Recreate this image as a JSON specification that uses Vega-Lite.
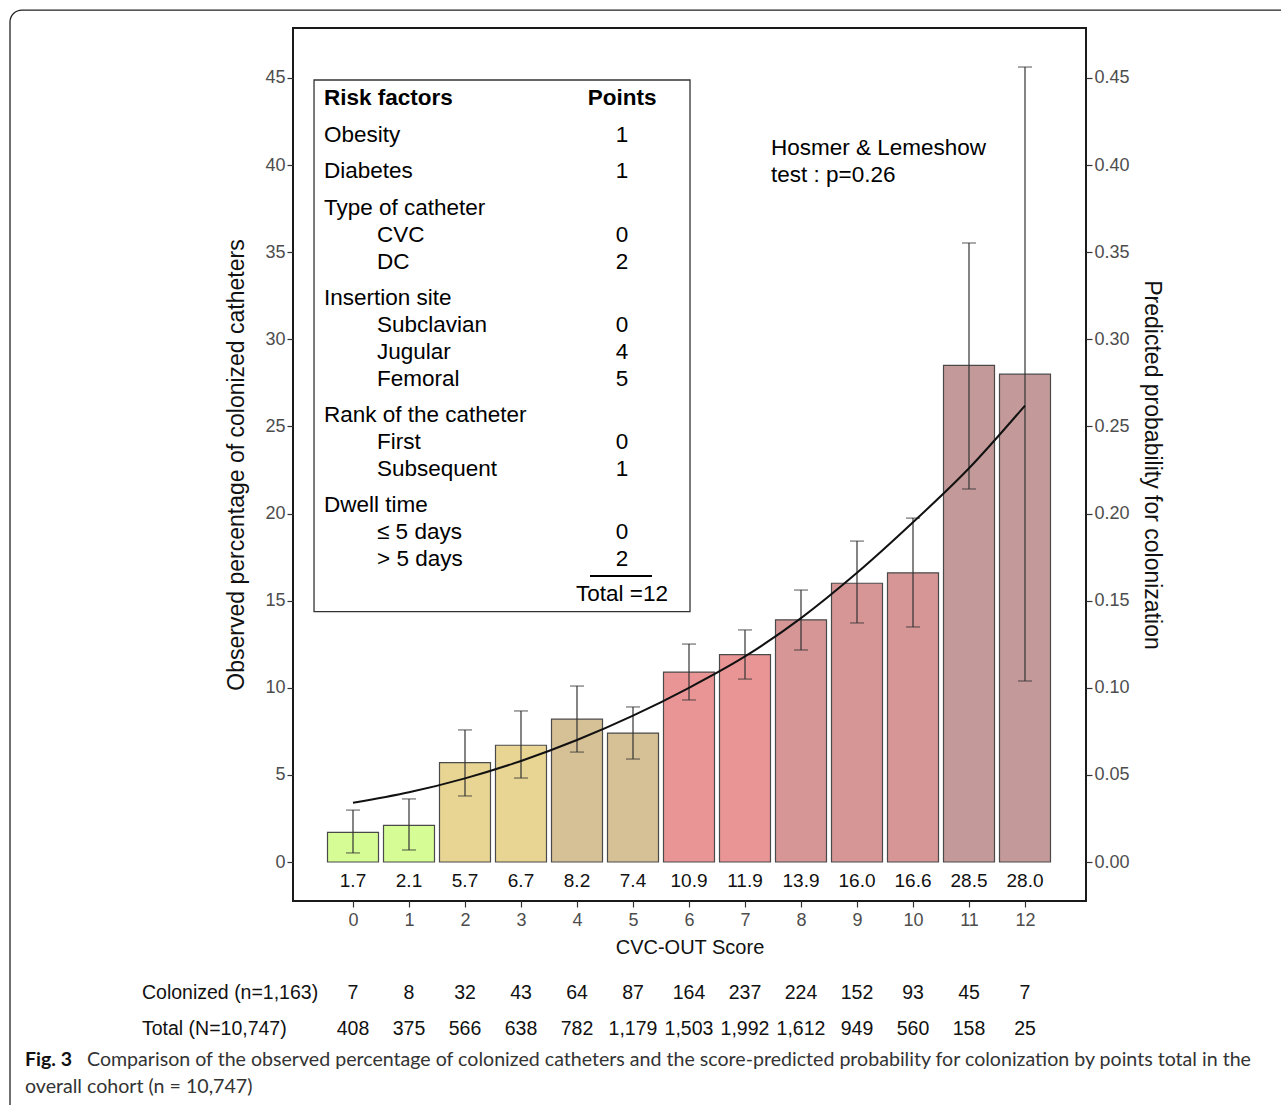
{
  "$schema": "https://vega.github.io/schema/vega-lite/v6.json",
  "width": 793,
  "height": 873,
  "autosize": "none",
  "padding": {"left": 293, "top": 28, "right": 195, "bottom": 204},
  "background": "white",
  "config": {
    "view": {"stroke": "#1a1a1a", "strokeWidth": 2},
    "font": "Liberation Sans",
    "scale": {"continuousPadding": 0},
    "axis": {
      "domain": false,
      "grid": false,
      "tickColor": "#333333",
      "tickSize": 6,
      "tickWidth": 1.2,
      "labelColor": "#4d4d4d",
      "labelFontSize": 18,
      "labelFont": "Liberation Sans",
      "titleFont": "Liberation Sans",
      "titleFontWeight": "normal",
      "titleColor": "#111111"
    },
    "text": {"font": "Liberation Sans", "baseline": "middle"}
  },
  "datasets": {
    "scores": [
      {"score": 0, "pct": 1.7, "lo": 0.52, "hi": 2.98, "tier": "A", "colonized": 7, "total": 408, "pred": 0.034},
      {"score": 1, "pct": 2.1, "lo": 0.69, "hi": 3.62, "tier": "A", "colonized": 8, "total": 375, "pred": 0.040},
      {"score": 2, "pct": 5.7, "lo": 3.79, "hi": 7.58, "tier": "B", "colonized": 32, "total": 566, "pred": 0.048},
      {"score": 3, "pct": 6.7, "lo": 4.82, "hi": 8.67, "tier": "B", "colonized": 43, "total": 638, "pred": 0.058},
      {"score": 4, "pct": 8.2, "lo": 6.31, "hi": 10.1, "tier": "C", "colonized": 64, "total": 782, "pred": 0.070},
      {"score": 5, "pct": 7.4, "lo": 5.91, "hi": 8.9, "tier": "C", "colonized": 87, "total": 1179, "pred": 0.084},
      {"score": 6, "pct": 10.9, "lo": 9.3, "hi": 12.51, "tier": "D", "colonized": 164, "total": 1503, "pred": 0.100},
      {"score": 7, "pct": 11.9, "lo": 10.5, "hi": 13.32, "tier": "D", "colonized": 237, "total": 1992, "pred": 0.118},
      {"score": 8, "pct": 13.9, "lo": 12.17, "hi": 15.61, "tier": "E", "colonized": 224, "total": 1612, "pred": 0.140},
      {"score": 9, "pct": 16.0, "lo": 13.72, "hi": 18.42, "tier": "E", "colonized": 152, "total": 949, "pred": 0.166},
      {"score": 10, "pct": 16.6, "lo": 13.49, "hi": 19.74, "tier": "E", "colonized": 93, "total": 560, "pred": 0.195},
      {"score": 11, "pct": 28.5, "lo": 21.41, "hi": 35.53, "tier": "F", "colonized": 45, "total": 158, "pred": 0.226},
      {"score": 12, "pct": 28.0, "lo": 10.39, "hi": 45.63, "tier": "F", "colonized": 7, "total": 25, "pred": 0.262}
    ],
    "table": [
      {"label": "Obesity", "indent": 0, "pts": "1", "ty": 41.72},
      {"label": "Diabetes", "indent": 0, "pts": "1", "ty": 39.66},
      {"label": "Type of catheter", "indent": 0, "pts": "", "ty": 37.54},
      {"label": "CVC", "indent": 1, "pts": "0", "ty": 35.99},
      {"label": "DC", "indent": 1, "pts": "2", "ty": 34.44},
      {"label": "Insertion site", "indent": 0, "pts": "", "ty": 32.37},
      {"label": "Subclavian", "indent": 1, "pts": "0", "ty": 30.82},
      {"label": "Jugular", "indent": 1, "pts": "4", "ty": 29.27},
      {"label": "Femoral", "indent": 1, "pts": "5", "ty": 27.72},
      {"label": "Rank of the catheter", "indent": 0, "pts": "", "ty": 25.66},
      {"label": "First", "indent": 1, "pts": "0", "ty": 24.11},
      {"label": "Subsequent", "indent": 1, "pts": "1", "ty": 22.56},
      {"label": "Dwell time", "indent": 0, "pts": "", "ty": 20.49},
      {"label": "≤ 5 days", "indent": 1, "pts": "0", "ty": 18.94},
      {"label": "> 5 days", "indent": 1, "pts": "2", "ty": 17.39}
    ]
  },
  "layer": [
    {
      "data": {"name": "scores"},
      "layer": [
        {
          "mark": {"type": "bar", "width": 51, "stroke": "#4a4a4a", "strokeWidth": 1.2},
          "encoding": {
            "x": {
              "field": "score", "type": "quantitative",
              "scale": {"domain": [-1.0714, 13.0893], "nice": false, "zero": false, "padding": 0},
              "axis": {"values": [0,1,2,3,4,5,6,7,8,9,10,11,12], "format": "d", "title": "CVC-OUT Score", "titleFontSize": 20, "labelPadding": 4, "titlePadding": 8}
            },
            "y": {
              "field": "pct", "type": "quantitative",
              "scale": {"domain": [-2.2385, 47.8698], "nice": false, "zero": false, "padding": 0},
              "axis": {"orient": "left", "values": [0,5,10,15,20,25,30,35,40,45], "format": "d", "title": "Observed percentage of colonized catheters", "titleFontSize": 23, "titlePadding": 16}
            },
            "y2": {"datum": 0},
            "color": {
              "field": "tier", "type": "nominal", "legend": null,
              "scale": {"domain": ["A","B","C","D","E","F"], "range": ["#d5fc95", "#e8d594", "#d6c196", "#e99595", "#d69696", "#c49999"]}
            }
          }
        },
        {
          "data": {"values": [{}]},
          "mark": {"type": "rect", "fill": null, "fillOpacity": 0, "stroke": "#222222", "strokeWidth": 1.3, "cornerRadius": 12},
          "encoding": {
            "x": {"datum": -6.125, "type": "quantitative"},
            "x2": {"datum": 17.5},
            "y": {"datum": 48.9, "type": "quantitative"},
            "y2": {"datum": -15}
          }
        },
        {
          "data": {"values": [{}]},
          "mark": {"type": "rect", "fill": "white", "stroke": "#333333", "strokeWidth": 1.3},
          "encoding": {
            "x": {"datum": -0.696, "type": "quantitative"},
            "x2": {"datum": 6.018},
            "y": {"datum": 44.885, "type": "quantitative"},
            "y2": {"datum": 14.367}
          }
        },
        {
          "mark": {"type": "rule", "color": "#333333", "strokeWidth": 1.2},
          "encoding": {
            "x": {"field": "score", "type": "quantitative"},
            "y": {"field": "lo", "type": "quantitative"},
            "y2": {"field": "hi"}
          }
        },
        {
          "mark": {"type": "tick", "orient": "horizontal", "size": 14, "thickness": 1.2, "color": "#333333"},
          "encoding": {
            "x": {"field": "score", "type": "quantitative"},
            "y": {"field": "lo", "type": "quantitative"}
          }
        },
        {
          "mark": {"type": "tick", "orient": "horizontal", "size": 14, "thickness": 1.2, "color": "#333333"},
          "encoding": {
            "x": {"field": "score", "type": "quantitative"},
            "y": {"field": "hi", "type": "quantitative"}
          }
        },
        {
          "mark": {"type": "text", "fontSize": 19, "color": "#111111", "align": "center"},
          "encoding": {
            "x": {"field": "score", "type": "quantitative"},
            "y": {"datum": -1.1, "type": "quantitative"},
            "text": {"field": "pct", "type": "quantitative", "format": ".1f"}
          }
        },
        {
          "mark": {"type": "text", "fontSize": 19.5, "color": "#111111", "align": "center"},
          "encoding": {
            "x": {"field": "score", "type": "quantitative"},
            "y": {"datum": -7.52, "type": "quantitative"},
            "text": {"field": "colonized", "type": "quantitative", "format": ",d"}
          }
        },
        {
          "mark": {"type": "text", "fontSize": 19.5, "color": "#111111", "align": "center"},
          "encoding": {
            "x": {"field": "score", "type": "quantitative"},
            "y": {"datum": -9.585, "type": "quantitative"},
            "text": {"field": "total", "type": "quantitative", "format": ",d"}
          }
        },
        {
          "data": {"values": [{}]},
          "mark": {"type": "text", "fontSize": 19.5, "color": "#111111", "align": "left", "text": "Colonized (n=1,163)"},
          "encoding": {
            "x": {"datum": -3.768, "type": "quantitative"},
            "y": {"datum": -7.52, "type": "quantitative"}
          }
        },
        {
          "data": {"values": [{}]},
          "mark": {"type": "text", "fontSize": 19.5, "color": "#111111", "align": "left", "text": "Total (N=10,747)"},
          "encoding": {
            "x": {"datum": -3.768, "type": "quantitative"},
            "y": {"datum": -9.585, "type": "quantitative"}
          }
        },
        {
          "data": {"name": "table"},
          "transform": [{"filter": "datum.indent == 0"}],
          "mark": {"type": "text", "fontSize": 22.5, "color": "#000000", "align": "left"},
          "encoding": {
            "x": {"datum": -0.518, "type": "quantitative"},
            "y": {"field": "ty", "type": "quantitative"},
            "text": {"field": "label"}
          }
        },
        {
          "data": {"name": "table"},
          "transform": [{"filter": "datum.indent == 1"}],
          "mark": {"type": "text", "fontSize": 22.5, "color": "#000000", "align": "left"},
          "encoding": {
            "x": {"datum": 0.429, "type": "quantitative"},
            "y": {"field": "ty", "type": "quantitative"},
            "text": {"field": "label"}
          }
        },
        {
          "data": {"name": "table"},
          "mark": {"type": "text", "fontSize": 22.5, "color": "#000000", "align": "center"},
          "encoding": {
            "x": {"datum": 4.804, "type": "quantitative"},
            "y": {"field": "ty", "type": "quantitative"},
            "text": {"field": "pts"}
          }
        },
        {
          "data": {"values": [{}]},
          "mark": {"type": "text", "fontSize": 22.5, "fontWeight": "bold", "color": "#000000", "align": "left", "text": "Risk factors"},
          "encoding": {
            "x": {"datum": -0.518, "type": "quantitative"},
            "y": {"datum": 43.85, "type": "quantitative"}
          }
        },
        {
          "data": {"values": [{}]},
          "mark": {"type": "text", "fontSize": 22.5, "fontWeight": "bold", "color": "#000000", "align": "center", "text": "Points"},
          "encoding": {
            "x": {"datum": 4.804, "type": "quantitative"},
            "y": {"datum": 43.85, "type": "quantitative"}
          }
        },
        {
          "data": {"values": [{}]},
          "mark": {"type": "rule", "color": "#000000", "strokeWidth": 2},
          "encoding": {
            "x": {"datum": 4.232, "type": "quantitative"},
            "x2": {"datum": 5.339},
            "y": {"datum": 16.416, "type": "quantitative"}
          }
        },
        {
          "data": {"values": [{}]},
          "mark": {"type": "text", "fontSize": 22.5, "color": "#000000", "align": "center", "text": "Total =12"},
          "encoding": {
            "x": {"datum": 4.804, "type": "quantitative"},
            "y": {"datum": 15.38, "type": "quantitative"}
          }
        },
        {
          "data": {"values": [{}]},
          "mark": {"type": "text", "fontSize": 22.5, "color": "#000000", "align": "left", "lineHeight": 27, "text": ["Hosmer & Lemeshow", "test : p=0.26"]},
          "encoding": {
            "x": {"datum": 7.464, "type": "quantitative"},
            "y": {"datum": 40.98, "type": "quantitative"}
          }
        },
        {
          "data": {"values": [{}]},
          "mark": {"type": "text", "font": "Lato", "fontSize": 19.5, "fontWeight": "bold", "color": "#111111", "align": "left", "text": "Fig. 3"},
          "encoding": {
            "x": {"datum": -5.857, "type": "quantitative"},
            "y": {"datum": -11.37, "type": "quantitative"}
          }
        },
        {
          "data": {"values": [{}]},
          "mark": {"type": "text", "font": "Lato", "fontSize": 19.6, "color": "#333333", "align": "left", "text": "Comparison of the observed percentage of colonized catheters and the score-predicted probability for colonization by points total in the"},
          "encoding": {
            "x": {"datum": -4.75, "type": "quantitative"},
            "y": {"datum": -11.37, "type": "quantitative"}
          }
        },
        {
          "data": {"values": [{}]},
          "mark": {"type": "text", "font": "Lato", "fontSize": 19.6, "color": "#333333", "align": "left", "text": "overall cohort (n = 10,747)"},
          "encoding": {
            "x": {"datum": -5.857, "type": "quantitative"},
            "y": {"datum": -12.91, "type": "quantitative"}
          }
        }
      ]
    },
    {
      "data": {"name": "scores"},
      "mark": {"type": "line", "color": "#111111", "strokeWidth": 2, "interpolate": "monotone"},
      "encoding": {
        "x": {"field": "score", "type": "quantitative"},
        "y": {
          "field": "pred", "type": "quantitative",
          "scale": {"domain": [-0.022385, 0.478698], "nice": false, "zero": false, "padding": 0},
          "axis": {"orient": "right", "values": [0, 0.05, 0.1, 0.15, 0.2, 0.25, 0.3, 0.35, 0.4, 0.45], "format": ".2f", "title": "Predicted probability for colonization", "titleFontSize": 23, "titlePadding": 10}
        }
      }
    }
  ],
  "resolve": {"scale": {"y": "independent"}}
}
